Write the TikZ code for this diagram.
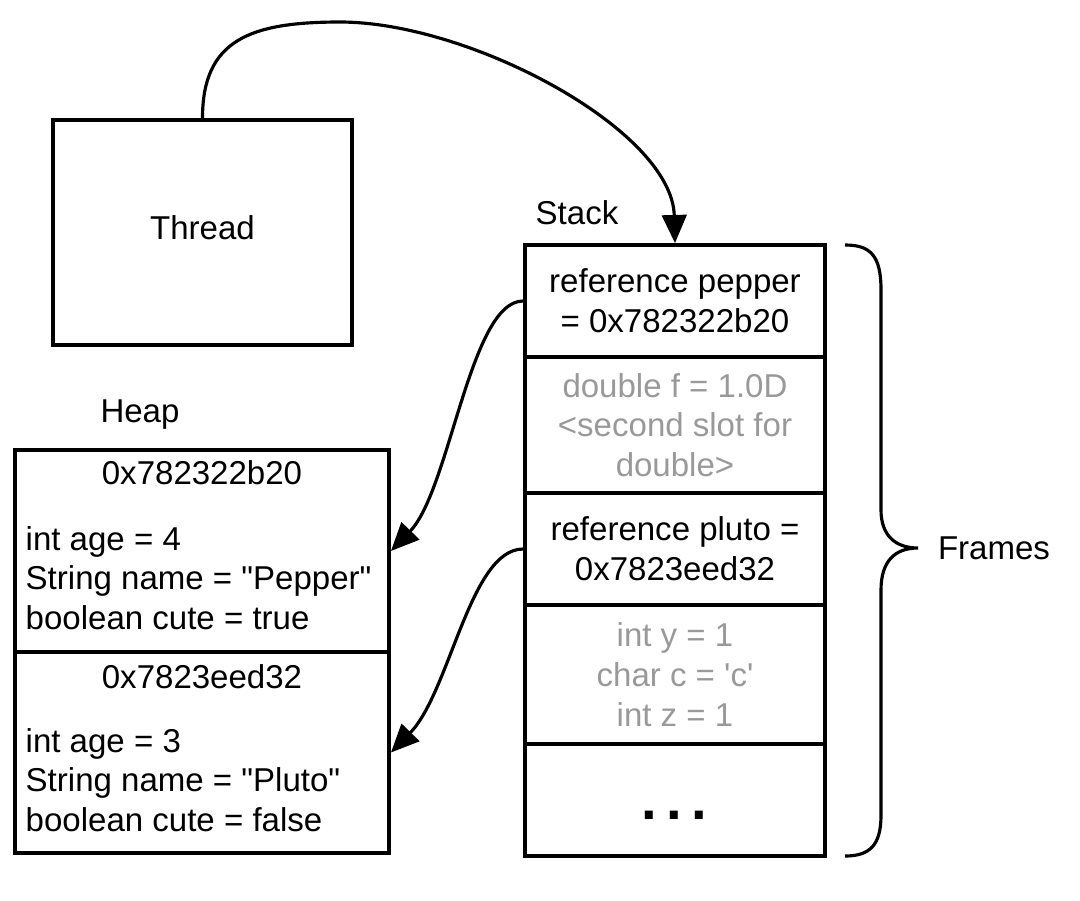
\documentclass[tikz,border=0pt]{standalone}
\usepackage{fontspec}
\setmainfont{Liberation Sans}
\usepackage{xcolor}
\usetikzlibrary{arrows.meta}
\definecolor{slotgray}{HTML}{999999}

\begin{document}
\begin{tikzpicture}[x=1cm,y=-1cm,
    every node/.append style={font=\fontsize{9.4}{11.3}\selectfont},
    box/.style={draw, line width=1.1pt, inner sep=0pt},
    cell/.style={box, minimum width=3.00cm, align=center},
    word/.style={inner sep=0pt},
    link/.style={line width=0.9pt, -{Triangle[length=8pt,width=7pt]}}]
    \useasboundingbox (0,0) rectangle (10.8,9.0);
    % thread
    \node[box, minimum width=2.99cm, minimum height=2.25cm, text depth=0.09cm] (thread) at (2.025,2.325) {Thread};
    % stack
    \node[word] (stacklabel) at (5.77,2.13) {Stack};
    \node[cell, minimum height=1.12cm] (s1) at (6.75,3.01) {reference pepper\\= 0x782322b20};
    \node[cell, minimum height=1.36cm, text=slotgray] (s2) at (6.75,4.25) {double f = 1.0D\\<second slot for\\double>};
    \node[cell, minimum height=1.12cm] (s3) at (6.75,5.49) {reference pluto =\\0x7823eed32};
    \node[cell, minimum height=1.39cm, text=slotgray] (s4) at (6.75,6.745) {int y = 1\\char c = \textquotesingle c\textquotesingle\\int z = 1};
    \node[cell, minimum height=1.12cm] (s5) at (6.75,8.00) {};
    \node[word, font=\fontsize{16}{16}\selectfont\bfseries] (dots) at (6.74,8.15) {.\,.\,.};
    % heap
    \node[word] (heaplabel) at (1.40,4.15) {Heap};
    \node[box, minimum width=3.74cm, minimum height=2.02cm] (h1) at (2.02,5.51) {};
    \node[box, minimum width=3.74cm, minimum height=2.01cm] (h2) at (2.02,7.525) {};
    \node[word] (h1addr) at (2.02,4.73) {0x782322b20};
    \node[word, align=left, anchor=west] (h1vars) at (0.25,5.78) {int age = 4\\String name = \textquotedbl Pepper\textquotedbl\\boolean cute = true};
    \node[word] (h2addr) at (2.02,6.77) {0x7823eed32};
    \node[word, align=left, anchor=west] (h2vars) at (0.25,7.80) {int age = 3\\String name = \textquotedbl Pluto\textquotedbl\\boolean cute = false};
    % frames brace
    \draw[line width=0.9pt] (8.45,2.45) .. controls (8.70,2.45) and (8.81,2.55) .. (8.81,2.90)
        -- (8.81,5.10) .. controls (8.81,5.35) and (8.95,5.48) .. (9.18,5.48)
        .. controls (8.95,5.48) and (8.81,5.61) .. (8.81,5.90)
        -- (8.81,8.15) .. controls (8.81,8.45) and (8.70,8.56) .. (8.45,8.56);
    \node[word] (frames) at (9.94,5.48) {Frames};
    % arrows
    \draw[link] (thread.north) .. controls (2.025,0.40) and (2.50,0.22) .. (3.40,0.22)
        .. controls (4.70,0.22) and (6.72,1.30) .. (s1.north);
    \draw[link] (s1.west) .. controls (4.70,3.01) and (4.50,4.90) .. (h1.east);
    \draw[link] (s3.west) .. controls (4.70,5.49) and (4.50,6.92) .. (h2.east);
\end{tikzpicture}
\end{document}
